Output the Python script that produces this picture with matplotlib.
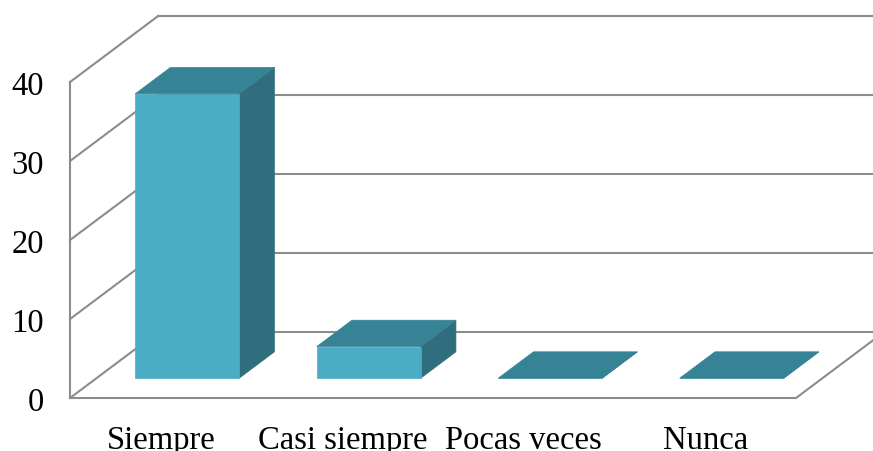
import matplotlib.pyplot as plt
from matplotlib.patches import Polygon

categories = ['Siempre', 'Casi siempre', 'Pocas veces', 'Nunca']
values = [36, 4, 0, 0]
y_ticks = [0, 10, 20, 30, 40]

# oblique projection: one unit of depth moves this much in x (category units) and y (value units)
DX = 0.485
DY = 8.35
BAR_W = 0.573
D0, D1 = 0.3, 0.7

GRID = '#8c8c8c'
FRONT = '#4bacc6'
TOP = '#378396'
SIDE = '#316e7d'


def proj(x, v, d):
    return (x + d * DX, v + d * DY)


fig = plt.figure(figsize=(8.73, 4.51), dpi=100)
ax = fig.add_axes([0, 0, 1, 1])
ax.set_xlim(-0.386, 4.424)
ax.set_ylim(-6.71, 50.38)
ax.axis('off')

n = len(categories)
top = y_ticks[-1]

# back wall gridlines
for t in y_ticks:
    a = proj(0, t, 1)
    b = proj(n + 1, t, 1)
    ax.plot([a[0], b[0]], [a[1], b[1]], color=GRID, lw=1.5, zorder=1)
# side wall gridlines
for t in y_ticks:
    a = proj(0, t, 0)
    b = proj(0, t, 1)
    ax.plot([a[0], b[0]], [a[1], b[1]], color=GRID, lw=1.5, zorder=1)
# front vertical axis
a = proj(0, 0, 0)
b = proj(0, top, 0)
ax.plot([a[0], b[0]], [a[1], b[1]], color=GRID, lw=1.5, zorder=1)
# floor front edge and right edge
pts = [proj(0, 0, 0), proj(n, 0, 0), proj(n, 0, 1)]
ax.plot([p[0] for p in pts], [p[1] for p in pts], color=GRID, lw=1.5, zorder=1)

# bars
for i, v in enumerate(values):
    x0 = i + (1 - BAR_W) / 2
    x1 = x0 + BAR_W
    front = [proj(x0, 0, D0), proj(x1, 0, D0), proj(x1, v, D0), proj(x0, v, D0)]
    side = [proj(x1, 0, D0), proj(x1, 0, D1), proj(x1, v, D1), proj(x1, v, D0)]
    lid = [proj(x0, v, D0), proj(x1, v, D0), proj(x1, v, D1), proj(x0, v, D1)]
    for poly, col in ((side, SIDE), (front, FRONT), (lid, TOP)):
        ax.add_patch(Polygon(poly, closed=True, facecolor=col, edgecolor=col,
                             lw=0.5, zorder=3))

# labels
for t in y_ticks:
    ax.text(-0.143, t - 0.55, str(t), ha='right', va='center', fontsize=23.5,
            family='Liberation Serif', color='black')
for i, c in enumerate(categories):
    ax.text(i + 0.5, -3.5, c, ha='center', va='top', fontsize=23.5,
            family='Liberation Serif', color='black')

fig.savefig('out.png', dpi=100)
